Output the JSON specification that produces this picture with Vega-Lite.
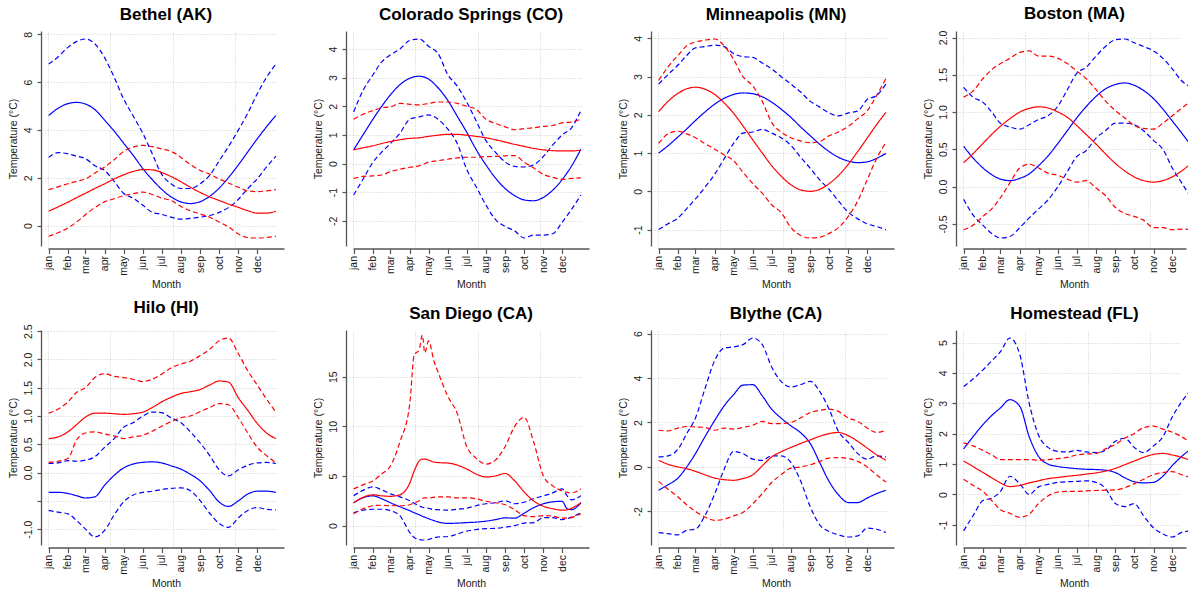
{
  "$schema": "https://vega.github.io/schema/vega-lite/v6.json",
  "autosize": {"type": "pad"},
  "padding": {"left": 8, "top": 5, "right": 0, "bottom": 0},
  "background": "white",
  "config": {
    "font": "Liberation Sans",
    "view": {"stroke": null},
    "title": {"fontSize": 17, "fontWeight": "bold", "color": "#000000", "offset": 7, "anchor": "middle", "font": "Liberation Sans"},
    "axis": {"labelFont": "Liberation Sans", "titleFont": "Liberation Sans", "labelFontSize": 10.5, "titleFontSize": 10.5, "titleFontWeight": "normal", "labelColor": "#1a1a1a", "titleColor": "#1a1a1a", "domainColor": "#555555", "domainWidth": 1.3, "tickColor": "#555555", "tickWidth": 1.2, "gridColor": "#cccccc", "gridDash": [1, 2], "gridWidth": 1, "labelFlush": false, "labelOverlap": false},
    "axisX": {"offset": 2.5, "tickSize": 5, "labelPadding": 2, "titlePadding": 4, "labelAngle": 270, "grid": false},
    "axisY": {"offset": 7, "tickSize": 4, "labelPadding": 4, "titlePadding": 5, "labelAngle": 270, "grid": true, "tickCount": 6},
    "line": {"strokeWidth": 1.2, "interpolate": "monotone", "clip": true}
  },
  "datasets": {
    "w": [
      {"c":"BE","d":1,"b":4.6,"bl":2.85,"bh":6.75,"r":0.6,"rl":-0.45,"rh":1.5},
      {"c":"BE","d":16,"b":4.9,"bl":3.05,"bh":7.05,"r":0.78,"rl":-0.3,"rh":1.62},
      {"c":"BE","d":32,"b":5.1,"bl":3.0,"bh":7.45,"r":0.98,"rl":-0.1,"rh":1.75},
      {"c":"BE","d":46,"b":5.15,"bl":2.9,"bh":7.7,"r":1.17,"rl":0.15,"rh":1.85},
      {"c":"BE","d":60,"b":5.08,"bl":2.8,"bh":7.8,"r":1.35,"rl":0.45,"rh":1.95},
      {"c":"BE","d":75,"b":4.85,"bl":2.5,"bh":7.6,"r":1.55,"rl":0.75,"rh":2.2},
      {"c":"BE","d":91,"b":4.4,"bl":2.3,"bh":7.0,"r":1.75,"rl":1.0,"rh":2.45},
      {"c":"BE","d":106,"b":3.95,"bl":1.85,"bh":6.2,"r":1.95,"rl":1.12,"rh":2.75},
      {"c":"BE","d":121,"b":3.45,"bl":1.35,"bh":5.3,"r":2.12,"rl":1.25,"rh":3.1},
      {"c":"BE","d":136,"b":2.95,"bl":1.15,"bh":4.6,"r":2.26,"rl":1.33,"rh":3.28},
      {"c":"BE","d":152,"b":2.38,"bl":0.85,"bh":3.85,"r":2.34,"rl":1.4,"rh":3.35},
      {"c":"BE","d":167,"b":1.92,"bl":0.55,"bh":3.0,"r":2.33,"rl":1.3,"rh":3.3},
      {"c":"BE","d":182,"b":1.52,"bl":0.47,"bh":2.15,"r":2.22,"rl":1.15,"rh":3.2},
      {"c":"BE","d":197,"b":1.2,"bl":0.35,"bh":1.75,"r":2.05,"rl":1.05,"rh":3.1},
      {"c":"BE","d":213,"b":0.99,"bl":0.27,"bh":1.55,"r":1.83,"rl":0.8,"rh":2.85},
      {"c":"BE","d":228,"b":0.92,"bl":0.3,"bh":1.55,"r":1.6,"rl":0.62,"rh":2.55},
      {"c":"BE","d":244,"b":1.0,"bl":0.35,"bh":1.75,"r":1.38,"rl":0.48,"rh":2.3},
      {"c":"BE","d":259,"b":1.22,"bl":0.42,"bh":2.1,"r":1.2,"rl":0.35,"rh":2.15},
      {"c":"BE","d":274,"b":1.56,"bl":0.55,"bh":2.7,"r":1.05,"rl":0.15,"rh":1.95},
      {"c":"BE","d":289,"b":2.0,"bl":0.75,"bh":3.3,"r":0.9,"rl":-0.05,"rh":1.78},
      {"c":"BE","d":305,"b":2.54,"bl":1.1,"bh":4.0,"r":0.76,"rl":-0.35,"rh":1.6},
      {"c":"BE","d":320,"b":3.08,"bl":1.55,"bh":4.7,"r":0.62,"rl":-0.5,"rh":1.45},
      {"c":"BE","d":335,"b":3.62,"bl":1.95,"bh":5.5,"r":0.52,"rl":-0.52,"rh":1.42},
      {"c":"BE","d":350,"b":4.13,"bl":2.45,"bh":6.2,"r":0.52,"rl":-0.5,"rh":1.45},
      {"c":"BE","d":365,"b":4.6,"bl":2.9,"bh":6.75,"r":0.6,"rl":-0.45,"rh":1.5},

      {"c":"CS","d":1,"b":0.48,"bl":-1.1,"bh":1.8,"r":0.48,"rl":-0.52,"rh":1.55},
      {"c":"CS","d":16,"b":1.0,"bl":-0.55,"bh":2.55,"r":0.55,"rl":-0.45,"rh":1.72},
      {"c":"CS","d":32,"b":1.55,"bl":0.05,"bh":3.1,"r":0.62,"rl":-0.43,"rh":1.85},
      {"c":"CS","d":46,"b":2.0,"bl":0.4,"bh":3.55,"r":0.7,"rl":-0.4,"rh":1.95},
      {"c":"CS","d":60,"b":2.4,"bl":0.7,"bh":3.8,"r":0.77,"rl":-0.28,"rh":1.98},
      {"c":"CS","d":75,"b":2.75,"bl":1.05,"bh":4.0,"r":0.83,"rl":-0.2,"rh":2.1},
      {"c":"CS","d":91,"b":2.98,"bl":1.55,"bh":4.3,"r":0.88,"rl":-0.13,"rh":2.07},
      {"c":"CS","d":106,"b":3.05,"bl":1.63,"bh":4.35,"r":0.9,"rl":-0.08,"rh":2.05},
      {"c":"CS","d":121,"b":2.95,"bl":1.7,"bh":4.1,"r":0.95,"rl":0.05,"rh":2.1},
      {"c":"CS","d":136,"b":2.65,"bl":1.55,"bh":3.85,"r":0.99,"rl":0.1,"rh":2.15},
      {"c":"CS","d":152,"b":2.2,"bl":1.2,"bh":3.1,"r":1.02,"rl":0.15,"rh":2.15},
      {"c":"CS","d":167,"b":1.65,"bl":0.7,"bh":2.7,"r":1.02,"rl":0.2,"rh":2.1},
      {"c":"CS","d":182,"b":1.1,"bl":-0.2,"bh":2.15,"r":0.99,"rl":0.22,"rh":2.0},
      {"c":"CS","d":197,"b":0.5,"bl":-0.8,"bh":1.5,"r":0.95,"rl":0.22,"rh":1.9},
      {"c":"CS","d":213,"b":-0.05,"bl":-1.45,"bh":0.8,"r":0.9,"rl":0.24,"rh":1.55},
      {"c":"CS","d":228,"b":-0.5,"bl":-1.95,"bh":0.4,"r":0.83,"rl":0.25,"rh":1.4},
      {"c":"CS","d":244,"b":-0.88,"bl":-2.2,"bh":0.05,"r":0.75,"rl":0.27,"rh":1.28},
      {"c":"CS","d":259,"b":-1.12,"bl":-2.35,"bh":-0.1,"r":0.67,"rl":0.28,"rh":1.18},
      {"c":"CS","d":274,"b":-1.27,"bl":-2.6,"bh":-0.12,"r":0.6,"rl":0.05,"rh":1.22},
      {"c":"CS","d":289,"b":-1.3,"bl":-2.5,"bh":-0.05,"r":0.53,"rl":-0.15,"rh":1.25},
      {"c":"CS","d":305,"b":-1.18,"bl":-2.5,"bh":0.25,"r":0.48,"rl":-0.38,"rh":1.3},
      {"c":"CS","d":320,"b":-0.93,"bl":-2.45,"bh":0.65,"r":0.45,"rl":-0.48,"rh":1.33},
      {"c":"CS","d":335,"b":-0.56,"bl":-2.05,"bh":1.0,"r":0.44,"rl":-0.55,"rh":1.42},
      {"c":"CS","d":350,"b":-0.09,"bl":-1.6,"bh":1.25,"r":0.44,"rl":-0.52,"rh":1.45},
      {"c":"CS","d":365,"b":0.5,"bl":-1.1,"bh":1.85,"r":0.47,"rl":-0.5,"rh":1.55},

      {"c":"MI","d":1,"b":1.0,"bl":-1.0,"bh":2.8,"r":2.08,"rl":1.25,"rh":2.9},
      {"c":"MI","d":16,"b":1.19,"bl":-0.85,"bh":3.05,"r":2.35,"rl":1.5,"rh":3.25},
      {"c":"MI","d":32,"b":1.42,"bl":-0.7,"bh":3.3,"r":2.56,"rl":1.57,"rh":3.55},
      {"c":"MI","d":46,"b":1.63,"bl":-0.45,"bh":3.55,"r":2.68,"rl":1.5,"rh":3.8},
      {"c":"MI","d":60,"b":1.85,"bl":-0.2,"bh":3.75,"r":2.72,"rl":1.4,"rh":3.9},
      {"c":"MI","d":75,"b":2.07,"bl":0.1,"bh":3.78,"r":2.67,"rl":1.25,"rh":3.95},
      {"c":"MI","d":91,"b":2.28,"bl":0.45,"bh":3.82,"r":2.53,"rl":1.1,"rh":3.98},
      {"c":"MI","d":106,"b":2.43,"bl":0.85,"bh":3.78,"r":2.31,"rl":0.95,"rh":3.8},
      {"c":"MI","d":121,"b":2.53,"bl":1.25,"bh":3.6,"r":2.04,"rl":0.8,"rh":3.45},
      {"c":"MI","d":136,"b":2.57,"bl":1.52,"bh":3.52,"r":1.71,"rl":0.5,"rh":3.0},
      {"c":"MI","d":152,"b":2.55,"bl":1.55,"bh":3.5,"r":1.34,"rl":0.2,"rh":2.75},
      {"c":"MI","d":167,"b":2.47,"bl":1.62,"bh":3.35,"r":1.0,"rl":-0.05,"rh":2.35},
      {"c":"MI","d":182,"b":2.33,"bl":1.52,"bh":3.2,"r":0.67,"rl":-0.35,"rh":1.8},
      {"c":"MI","d":197,"b":2.15,"bl":1.4,"bh":3.0,"r":0.4,"rl":-0.55,"rh":1.55},
      {"c":"MI","d":213,"b":1.93,"bl":1.2,"bh":2.8,"r":0.17,"rl":-0.95,"rh":1.4},
      {"c":"MI","d":228,"b":1.69,"bl":0.9,"bh":2.6,"r":0.04,"rl":-1.15,"rh":1.32},
      {"c":"MI","d":244,"b":1.45,"bl":0.6,"bh":2.35,"r":0.0,"rl":-1.22,"rh":1.27},
      {"c":"MI","d":259,"b":1.23,"bl":0.3,"bh":2.2,"r":0.05,"rl":-1.2,"rh":1.3},
      {"c":"MI","d":274,"b":1.04,"bl":0.05,"bh":2.05,"r":0.2,"rl":-1.1,"rh":1.45},
      {"c":"MI","d":289,"b":0.89,"bl":-0.25,"bh":1.97,"r":0.41,"rl":-0.95,"rh":1.55},
      {"c":"MI","d":305,"b":0.79,"bl":-0.55,"bh":2.05,"r":0.71,"rl":-0.65,"rh":1.7},
      {"c":"MI","d":320,"b":0.75,"bl":-0.72,"bh":2.1,"r":1.04,"rl":-0.25,"rh":1.9},
      {"c":"MI","d":335,"b":0.77,"bl":-0.85,"bh":2.4,"r":1.39,"rl":0.3,"rh":2.1},
      {"c":"MI","d":350,"b":0.86,"bl":-0.92,"bh":2.5,"r":1.74,"rl":0.85,"rh":2.5},
      {"c":"MI","d":365,"b":0.99,"bl":-1.0,"bh":2.8,"r":2.06,"rl":1.28,"rh":2.95},

      {"c":"BO","d":1,"b":0.54,"bl":-0.17,"bh":1.33,"r":0.32,"rl":-0.58,"rh":1.2},
      {"c":"BO","d":16,"b":0.385,"bl":-0.38,"bh":1.2,"r":0.44,"rl":-0.52,"rh":1.28},
      {"c":"BO","d":32,"b":0.25,"bl":-0.52,"bh":1.13,"r":0.58,"rl":-0.4,"rh":1.45},
      {"c":"BO","d":46,"b":0.16,"bl":-0.63,"bh":1.0,"r":0.7,"rl":-0.3,"rh":1.57},
      {"c":"BO","d":60,"b":0.1,"bl":-0.69,"bh":0.85,"r":0.81,"rl":-0.15,"rh":1.65},
      {"c":"BO","d":75,"b":0.08,"bl":-0.67,"bh":0.8,"r":0.91,"rl":0.05,"rh":1.72},
      {"c":"BO","d":91,"b":0.11,"bl":-0.55,"bh":0.77,"r":1.0,"rl":0.25,"rh":1.8},
      {"c":"BO","d":106,"b":0.17,"bl":-0.42,"bh":0.83,"r":1.05,"rl":0.3,"rh":1.82},
      {"c":"BO","d":121,"b":0.28,"bl":-0.3,"bh":0.9,"r":1.07,"rl":0.25,"rh":1.75},
      {"c":"BO","d":136,"b":0.41,"bl":-0.18,"bh":0.95,"r":1.055,"rl":0.18,"rh":1.75},
      {"c":"BO","d":152,"b":0.58,"bl":0.0,"bh":1.08,"r":1.0,"rl":0.15,"rh":1.72},
      {"c":"BO","d":167,"b":0.75,"bl":0.2,"bh":1.3,"r":0.93,"rl":0.1,"rh":1.65},
      {"c":"BO","d":182,"b":0.92,"bl":0.4,"bh":1.52,"r":0.82,"rl":0.06,"rh":1.55},
      {"c":"BO","d":197,"b":1.07,"bl":0.48,"bh":1.6,"r":0.7,"rl":0.08,"rh":1.45},
      {"c":"BO","d":213,"b":1.21,"bl":0.65,"bh":1.75,"r":0.57,"rl":-0.02,"rh":1.3},
      {"c":"BO","d":228,"b":1.31,"bl":0.75,"bh":1.88,"r":0.44,"rl":-0.12,"rh":1.15},
      {"c":"BO","d":244,"b":1.37,"bl":0.85,"bh":1.97,"r":0.31,"rl":-0.28,"rh":1.02},
      {"c":"BO","d":259,"b":1.39,"bl":0.85,"bh":1.98,"r":0.21,"rl":-0.36,"rh":0.92},
      {"c":"BO","d":274,"b":1.36,"bl":0.83,"bh":1.93,"r":0.13,"rl":-0.4,"rh":0.82},
      {"c":"BO","d":289,"b":1.29,"bl":0.75,"bh":1.88,"r":0.08,"rl":-0.45,"rh":0.78},
      {"c":"BO","d":305,"b":1.18,"bl":0.62,"bh":1.82,"r":0.06,"rl":-0.55,"rh":0.77},
      {"c":"BO","d":320,"b":1.04,"bl":0.5,"bh":1.72,"r":0.08,"rl":-0.55,"rh":0.85},
      {"c":"BO","d":335,"b":0.88,"bl":0.25,"bh":1.58,"r":0.13,"rl":-0.58,"rh":0.95},
      {"c":"BO","d":350,"b":0.72,"bl":0.05,"bh":1.42,"r":0.21,"rl":-0.57,"rh":1.05},
      {"c":"BO","d":365,"b":0.55,"bl":-0.15,"bh":1.33,"r":0.31,"rl":-0.58,"rh":1.15},

      {"c":"HI","d":1,"b":-0.35,"bl":-0.67,"bh":0.16,"r":0.6,"rl":0.18,"rh":1.05},
      {"c":"HI","d":16,"b":-0.35,"bl":-0.7,"bh":0.17,"r":0.63,"rl":0.2,"rh":1.12},
      {"c":"HI","d":32,"b":-0.37,"bl":-0.73,"bh":0.21,"r":0.72,"rl":0.25,"rh":1.25},
      {"c":"HI","d":46,"b":-0.41,"bl":-0.85,"bh":0.2,"r":0.85,"rl":0.58,"rh":1.42},
      {"c":"HI","d":60,"b":-0.45,"bl":-1.0,"bh":0.22,"r":0.98,"rl":0.7,"rh":1.5},
      {"c":"HI","d":75,"b":-0.43,"bl":-1.14,"bh":0.28,"r":1.05,"rl":0.72,"rh":1.68},
      {"c":"HI","d":91,"b":-0.22,"bl":-1.02,"bh":0.45,"r":1.05,"rl":0.68,"rh":1.75},
      {"c":"HI","d":106,"b":-0.05,"bl":-0.75,"bh":0.6,"r":1.04,"rl":0.65,"rh":1.7},
      {"c":"HI","d":121,"b":0.08,"bl":-0.52,"bh":0.8,"r":1.03,"rl":0.6,"rh":1.68},
      {"c":"HI","d":136,"b":0.15,"bl":-0.4,"bh":0.88,"r":1.04,"rl":0.63,"rh":1.65},
      {"c":"HI","d":152,"b":0.18,"bl":-0.35,"bh":1.0,"r":1.07,"rl":0.66,"rh":1.61},
      {"c":"HI","d":167,"b":0.19,"bl":-0.33,"bh":1.07,"r":1.15,"rl":0.73,"rh":1.65},
      {"c":"HI","d":182,"b":0.17,"bl":-0.3,"bh":1.06,"r":1.25,"rl":0.82,"rh":1.74},
      {"c":"HI","d":197,"b":0.12,"bl":-0.28,"bh":0.97,"r":1.33,"rl":0.9,"rh":1.85},
      {"c":"HI","d":213,"b":0.06,"bl":-0.27,"bh":0.88,"r":1.4,"rl":0.97,"rh":1.92},
      {"c":"HI","d":228,"b":-0.03,"bl":-0.32,"bh":0.72,"r":1.43,"rl":1.0,"rh":1.97},
      {"c":"HI","d":244,"b":-0.15,"bl":-0.5,"bh":0.52,"r":1.47,"rl":1.08,"rh":2.07},
      {"c":"HI","d":259,"b":-0.32,"bl":-0.72,"bh":0.3,"r":1.55,"rl":1.15,"rh":2.18},
      {"c":"HI","d":274,"b":-0.52,"bl":-0.9,"bh":0.05,"r":1.62,"rl":1.22,"rh":2.33},
      {"c":"HI","d":289,"b":-0.6,"bl":-0.97,"bh":-0.06,"r":1.6,"rl":1.2,"rh":2.38},
      {"c":"HI","d":305,"b":-0.5,"bl":-0.8,"bh":0.05,"r":1.32,"rl":0.97,"rh":2.1},
      {"c":"HI","d":320,"b":-0.38,"bl":-0.67,"bh":0.13,"r":1.1,"rl":0.7,"rh":1.8},
      {"c":"HI","d":335,"b":-0.33,"bl":-0.62,"bh":0.17,"r":0.87,"rl":0.45,"rh":1.55},
      {"c":"HI","d":350,"b":-0.33,"bl":-0.65,"bh":0.18,"r":0.7,"rl":0.3,"rh":1.3},
      {"c":"HI","d":365,"b":-0.35,"bl":-0.66,"bh":0.16,"r":0.6,"rl":0.17,"rh":1.07},

      {"c":"SD","d":1,"b":2.3,"bl":1.3,"bh":3.0,"r":2.3,"rl":1.2,"rh":3.7},
      {"c":"SD","d":16,"b":2.8,"bl":1.55,"bh":3.55,"r":2.85,"rl":1.7,"rh":4.1},
      {"c":"SD","d":32,"b":3.0,"bl":1.65,"bh":3.9,"r":3.1,"rl":2.0,"rh":4.5},
      {"c":"SD","d":46,"b":2.7,"bl":1.65,"bh":3.6,"r":3.0,"rl":2.05,"rh":5.2},
      {"c":"SD","d":60,"b":2.3,"bl":1.5,"bh":3.2,"r":2.95,"rl":2.0,"rh":6.0},
      {"c":"SD","d":75,"b":1.9,"bl":1.0,"bh":2.9,"r":3.1,"rl":2.0,"rh":8.4},
      {"c":"SD","d":91,"b":1.5,"bl":-0.7,"bh":2.5,"r":4.3,"rl":2.1,"rh":12.3},
      {"c":"SD","d":98,"b":1.3,"bl":-1.2,"bh":2.25,"r":5.5,"rl":2.3,"rh":17.2},
      {"c":"SD","d":106,"b":1.1,"bl":-1.4,"bh":2.0,"r":6.5,"rl":2.5,"rh":17.7},
      {"c":"SD","d":111,"b":0.95,"bl":-1.45,"bh":1.85,"r":6.7,"rl":2.75,"rh":19.2},
      {"c":"SD","d":115,"b":0.85,"bl":-1.45,"bh":1.8,"r":6.7,"rl":2.8,"rh":17.4},
      {"c":"SD","d":121,"b":0.7,"bl":-1.4,"bh":1.75,"r":6.6,"rl":2.8,"rh":18.6},
      {"c":"SD","d":130,"b":0.5,"bl":-1.2,"bh":1.6,"r":6.4,"rl":2.85,"rh":16.5},
      {"c":"SD","d":136,"b":0.38,"bl":-1.15,"bh":1.6,"r":6.35,"rl":2.9,"rh":15.5},
      {"c":"SD","d":152,"b":0.22,"bl":-1.1,"bh":1.55,"r":6.3,"rl":2.9,"rh":13.0},
      {"c":"SD","d":167,"b":0.25,"bl":-0.85,"bh":1.65,"r":6.1,"rl":2.8,"rh":11.3},
      {"c":"SD","d":182,"b":0.3,"bl":-0.55,"bh":1.75,"r":5.7,"rl":2.8,"rh":8.0},
      {"c":"SD","d":197,"b":0.35,"bl":-0.4,"bh":2.0,"r":5.2,"rl":2.7,"rh":6.8},
      {"c":"SD","d":213,"b":0.45,"bl":-0.3,"bh":2.2,"r":4.9,"rl":2.45,"rh":6.2},
      {"c":"SD","d":228,"b":0.6,"bl":-0.28,"bh":2.3,"r":5.0,"rl":2.3,"rh":6.6},
      {"c":"SD","d":244,"b":0.78,"bl":-0.15,"bh":2.5,"r":5.25,"rl":2.1,"rh":8.0},
      {"c":"SD","d":259,"b":0.75,"bl":0.0,"bh":2.2,"r":4.5,"rl":1.6,"rh":10.0},
      {"c":"SD","d":274,"b":1.25,"bl":0.25,"bh":2.35,"r":3.4,"rl":1.0,"rh":10.9},
      {"c":"SD","d":289,"b":1.8,"bl":0.3,"bh":2.7,"r":2.5,"rl":0.9,"rh":8.5},
      {"c":"SD","d":305,"b":2.2,"bl":0.8,"bh":3.0,"r":1.95,"rl":1.0,"rh":5.0},
      {"c":"SD","d":320,"b":2.4,"bl":0.8,"bh":3.3,"r":1.7,"rl":0.95,"rh":4.0},
      {"c":"SD","d":335,"b":2.45,"bl":0.6,"bh":3.7,"r":1.55,"rl":0.75,"rh":3.5},
      {"c":"SD","d":343,"b":1.7,"bl":0.7,"bh":3.0,"r":1.6,"rl":0.75,"rh":3.35},
      {"c":"SD","d":350,"b":1.6,"bl":0.85,"bh":2.6,"r":1.75,"rl":0.8,"rh":3.3},
      {"c":"SD","d":365,"b":2.3,"bl":1.3,"bh":3.0,"r":2.3,"rl":1.2,"rh":3.7},

      {"c":"BL","d":1,"b":-1.05,"bl":-2.95,"bh":0.45,"r":0.3,"rl":-0.65,"rh":1.65},
      {"c":"BL","d":16,"b":-0.8,"bl":-3.0,"bh":0.5,"r":0.12,"rl":-1.0,"rh":1.62},
      {"c":"BL","d":32,"b":-0.5,"bl":-3.05,"bh":0.8,"r":0.0,"rl":-1.35,"rh":1.75},
      {"c":"BL","d":46,"b":0.0,"bl":-2.85,"bh":1.5,"r":-0.08,"rl":-1.7,"rh":1.82},
      {"c":"BL","d":60,"b":0.6,"bl":-2.8,"bh":2.2,"r":-0.2,"rl":-2.0,"rh":1.8},
      {"c":"BL","d":75,"b":1.35,"bl":-2.2,"bh":3.5,"r":-0.35,"rl":-2.25,"rh":1.78},
      {"c":"BL","d":91,"b":2.1,"bl":-1.2,"bh":4.8,"r":-0.5,"rl":-2.4,"rh":1.65},
      {"c":"BL","d":106,"b":2.75,"bl":-0.1,"bh":5.35,"r":-0.57,"rl":-2.35,"rh":1.75},
      {"c":"BL","d":121,"b":3.25,"bl":0.7,"bh":5.4,"r":-0.6,"rl":-2.2,"rh":1.7},
      {"c":"BL","d":136,"b":3.68,"bl":0.6,"bh":5.5,"r":-0.52,"rl":-2.05,"rh":1.78},
      {"c":"BL","d":152,"b":3.7,"bl":0.35,"bh":5.8,"r":-0.35,"rl":-1.65,"rh":1.88},
      {"c":"BL","d":167,"b":3.2,"bl":0.3,"bh":5.5,"r":0.05,"rl":-1.2,"rh":2.05},
      {"c":"BL","d":182,"b":2.6,"bl":0.5,"bh":4.5,"r":0.45,"rl":-0.7,"rh":1.95},
      {"c":"BL","d":197,"b":2.2,"bl":0.5,"bh":3.85,"r":0.68,"rl":-0.35,"rh":1.95},
      {"c":"BL","d":213,"b":1.85,"bl":0.2,"bh":3.6,"r":0.88,"rl":-0.05,"rh":2.0},
      {"c":"BL","d":228,"b":1.55,"bl":-0.6,"bh":3.7,"r":1.05,"rl":0.0,"rh":2.2},
      {"c":"BL","d":244,"b":1.05,"bl":-1.8,"bh":3.85,"r":1.22,"rl":0.1,"rh":2.45},
      {"c":"BL","d":259,"b":0.2,"bl":-2.6,"bh":3.4,"r":1.38,"rl":0.25,"rh":2.55},
      {"c":"BL","d":274,"b":-0.65,"bl":-2.9,"bh":2.6,"r":1.5,"rl":0.4,"rh":2.6},
      {"c":"BL","d":289,"b":-1.25,"bl":-3.05,"bh":1.6,"r":1.55,"rl":0.42,"rh":2.5},
      {"c":"BL","d":305,"b":-1.6,"bl":-3.15,"bh":1.1,"r":1.4,"rl":0.38,"rh":2.2},
      {"c":"BL","d":320,"b":-1.6,"bl":-3.1,"bh":0.6,"r":1.15,"rl":0.25,"rh":2.05},
      {"c":"BL","d":335,"b":-1.4,"bl":-2.75,"bh":0.35,"r":0.85,"rl":0.0,"rh":1.75},
      {"c":"BL","d":350,"b":-1.2,"bl":-2.8,"bh":0.5,"r":0.55,"rl":-0.35,"rh":1.55},
      {"c":"BL","d":365,"b":-1.05,"bl":-2.95,"bh":0.45,"r":0.3,"rl":-0.68,"rh":1.65},

      {"c":"HO","d":1,"b":1.5,"bl":-1.2,"bh":3.55,"r":1.1,"rl":0.5,"rh":1.7},
      {"c":"HO","d":16,"b":1.9,"bl":-0.7,"bh":3.8,"r":0.92,"rl":0.3,"rh":1.6},
      {"c":"HO","d":32,"b":2.3,"bl":-0.2,"bh":4.1,"r":0.72,"rl":0.1,"rh":1.45},
      {"c":"HO","d":46,"b":2.6,"bl":-0.12,"bh":4.4,"r":0.55,"rl":-0.2,"rh":1.3},
      {"c":"HO","d":60,"b":2.85,"bl":0.1,"bh":4.7,"r":0.38,"rl":-0.5,"rh":1.15},
      {"c":"HO","d":75,"b":3.12,"bl":0.6,"bh":5.15,"r":0.26,"rl":-0.62,"rh":1.15},
      {"c":"HO","d":91,"b":2.9,"bl":0.35,"bh":4.6,"r":0.3,"rl":-0.75,"rh":1.15},
      {"c":"HO","d":106,"b":1.9,"bl":0.0,"bh":3.0,"r":0.38,"rl":-0.65,"rh":1.15},
      {"c":"HO","d":121,"b":1.25,"bl":0.25,"bh":1.95,"r":0.45,"rl":-0.3,"rh":1.13},
      {"c":"HO","d":136,"b":1.0,"bl":0.33,"bh":1.55,"r":0.52,"rl":-0.05,"rh":1.15},
      {"c":"HO","d":152,"b":0.92,"bl":0.4,"bh":1.42,"r":0.56,"rl":0.08,"rh":1.18},
      {"c":"HO","d":167,"b":0.88,"bl":0.42,"bh":1.4,"r":0.6,"rl":0.1,"rh":1.22},
      {"c":"HO","d":182,"b":0.85,"bl":0.43,"bh":1.45,"r":0.63,"rl":0.1,"rh":1.3},
      {"c":"HO","d":197,"b":0.83,"bl":0.45,"bh":1.4,"r":0.67,"rl":0.12,"rh":1.33},
      {"c":"HO","d":213,"b":0.82,"bl":0.4,"bh":1.38,"r":0.71,"rl":0.13,"rh":1.35},
      {"c":"HO","d":228,"b":0.8,"bl":0.2,"bh":1.45,"r":0.77,"rl":0.14,"rh":1.5},
      {"c":"HO","d":244,"b":0.72,"bl":-0.3,"bh":1.75,"r":0.86,"rl":0.15,"rh":1.65},
      {"c":"HO","d":259,"b":0.55,"bl":-0.4,"bh":1.85,"r":0.98,"rl":0.22,"rh":1.85},
      {"c":"HO","d":274,"b":0.42,"bl":-0.3,"bh":1.55,"r":1.1,"rl":0.35,"rh":2.0},
      {"c":"HO","d":289,"b":0.38,"bl":-0.7,"bh":1.38,"r":1.22,"rl":0.5,"rh":2.2},
      {"c":"HO","d":305,"b":0.4,"bl":-1.1,"bh":1.6,"r":1.32,"rl":0.65,"rh":2.25},
      {"c":"HO","d":320,"b":0.6,"bl":-1.3,"bh":1.9,"r":1.35,"rl":0.72,"rh":2.15},
      {"c":"HO","d":335,"b":0.95,"bl":-1.4,"bh":2.55,"r":1.3,"rl":0.75,"rh":2.05},
      {"c":"HO","d":350,"b":1.25,"bl":-1.25,"bh":3.05,"r":1.22,"rl":0.65,"rh":1.9},
      {"c":"HO","d":365,"b":1.5,"bl":-1.2,"bh":3.45,"r":1.12,"rl":0.55,"rh":1.7}
    ]
  },
  "data": {"name": "w"},
  "transform": [{"fold": ["b", "bl", "bh", "r", "rl", "rh"], "as": ["s", "v"]}],
  "columns": 4,
  "bounds": "flush",
  "spacing": {"row": 84, "column": 69},
  "concat": [
    {"title": "Bethel (AK)", "width": 236, "height": 215, "transform": [{"filter": "datum.c === 'BE'"}], "resolve": {"axis": {"x": "independent"}},
     "layer": [
      {"mark": {"type": "rule", "opacity": 0, "clip": true}, "encoding": {"x": {"field": "d", "type": "quantitative", "scale": {"domain": [0, 378], "nice": false, "zero": false}, "axis": {"orient": "bottom", "values": [0, 100, 200, 300], "grid": true, "labels": false, "ticks": false, "domain": false, "title": null, "offset": 0}}}},
      {"mark": {"type": "line"}, "encoding": {
        "x": {"field": "d", "type": "quantitative", "scale": {"domain": [0, 378], "nice": false, "zero": false}, "axis": {"orient": "bottom", "values": [1, 32, 60, 91, 121, 152, 182, 213, 244, 274, 305, 335], "labelExpr": "['jan','feb','mar','apr','may','jun','jul','aug','sep','oct','nov','dec'][indexof([1,32,60,91,121,152,182,213,244,274,305,335], datum.value)]", "title": "Month"}},
        "y": {"field": "v", "type": "quantitative", "scale": {"zero": false, "nice": false, "padding": 8}, "axis": {"title": "Temperature (°C)", "labelExpr": "replace(datum.label, '−', '-')"}},
        "color": {"field": "s", "type": "nominal", "scale": {"domain": ["b", "bl", "bh", "r", "rl", "rh"], "range": ["#0000ff", "#0000ff", "#0000ff", "#ff0000", "#ff0000", "#ff0000"]}, "legend": null},
        "strokeDash": {"field": "s", "type": "nominal", "scale": {"domain": ["b", "bl", "bh", "r", "rl", "rh"], "range": [[1, 0], [5, 3], [5, 3], [1, 0], [5, 3], [5, 3]]}, "legend": null}}}
     ]},
    {"title": "Colorado Springs (CO)", "width": 236, "height": 215, "transform": [{"filter": "datum.c === 'CS'"}], "resolve": {"axis": {"x": "independent"}},
     "layer": [
      {"mark": {"type": "rule", "opacity": 0, "clip": true}, "encoding": {"x": {"field": "d", "type": "quantitative", "scale": {"domain": [0, 378], "nice": false, "zero": false}, "axis": {"orient": "bottom", "values": [0, 100, 200, 300], "grid": true, "labels": false, "ticks": false, "domain": false, "title": null, "offset": 0}}}},
      {"mark": {"type": "line"}, "encoding": {
        "x": {"field": "d", "type": "quantitative", "scale": {"domain": [0, 378], "nice": false, "zero": false}, "axis": {"orient": "bottom", "values": [1, 32, 60, 91, 121, 152, 182, 213, 244, 274, 305, 335], "labelExpr": "['jan','feb','mar','apr','may','jun','jul','aug','sep','oct','nov','dec'][indexof([1,32,60,91,121,152,182,213,244,274,305,335], datum.value)]", "title": "Month"}},
        "y": {"field": "v", "type": "quantitative", "scale": {"zero": false, "nice": false, "padding": 8}, "axis": {"title": "Temperature (°C)", "labelExpr": "replace(datum.label, '−', '-')"}},
        "color": {"field": "s", "type": "nominal", "scale": {"domain": ["b", "bl", "bh", "r", "rl", "rh"], "range": ["#0000ff", "#0000ff", "#0000ff", "#ff0000", "#ff0000", "#ff0000"]}, "legend": null},
        "strokeDash": {"field": "s", "type": "nominal", "scale": {"domain": ["b", "bl", "bh", "r", "rl", "rh"], "range": [[1, 0], [5, 3], [5, 3], [1, 0], [5, 3], [5, 3]]}, "legend": null}}}
     ]},
    {"title": "Minneapolis (MN)", "width": 236, "height": 215, "transform": [{"filter": "datum.c === 'MI'"}], "resolve": {"axis": {"x": "independent"}},
     "layer": [
      {"mark": {"type": "rule", "opacity": 0, "clip": true}, "encoding": {"x": {"field": "d", "type": "quantitative", "scale": {"domain": [0, 378], "nice": false, "zero": false}, "axis": {"orient": "bottom", "values": [0, 100, 200, 300], "grid": true, "labels": false, "ticks": false, "domain": false, "title": null, "offset": 0}}}},
      {"mark": {"type": "line"}, "encoding": {
        "x": {"field": "d", "type": "quantitative", "scale": {"domain": [0, 378], "nice": false, "zero": false}, "axis": {"orient": "bottom", "values": [1, 32, 60, 91, 121, 152, 182, 213, 244, 274, 305, 335], "labelExpr": "['jan','feb','mar','apr','may','jun','jul','aug','sep','oct','nov','dec'][indexof([1,32,60,91,121,152,182,213,244,274,305,335], datum.value)]", "title": "Month"}},
        "y": {"field": "v", "type": "quantitative", "scale": {"zero": false, "nice": false, "padding": 8}, "axis": {"title": "Temperature (°C)", "labelExpr": "replace(datum.label, '−', '-')"}},
        "color": {"field": "s", "type": "nominal", "scale": {"domain": ["b", "bl", "bh", "r", "rl", "rh"], "range": ["#0000ff", "#0000ff", "#0000ff", "#ff0000", "#ff0000", "#ff0000"]}, "legend": null},
        "strokeDash": {"field": "s", "type": "nominal", "scale": {"domain": ["b", "bl", "bh", "r", "rl", "rh"], "range": [[1, 0], [5, 3], [5, 3], [1, 0], [5, 3], [5, 3]]}, "legend": null}}}
     ]},
    {"title": "Boston (MA)", "width": 223, "height": 215, "transform": [{"filter": "datum.c === 'BO'"}], "resolve": {"axis": {"x": "independent"}},
     "layer": [
      {"mark": {"type": "rule", "opacity": 0, "clip": true}, "encoding": {"x": {"field": "d", "type": "quantitative", "scale": {"domain": [0, 357], "nice": false, "zero": false}, "axis": {"orient": "bottom", "values": [0, 100, 200, 300], "grid": true, "labels": false, "ticks": false, "domain": false, "title": null, "offset": 0}}}},
      {"mark": {"type": "line"}, "encoding": {
        "x": {"field": "d", "type": "quantitative", "scale": {"domain": [0, 357], "nice": false, "zero": false}, "axis": {"orient": "bottom", "values": [1, 32, 60, 91, 121, 152, 182, 213, 244, 274, 305, 335], "labelExpr": "['jan','feb','mar','apr','may','jun','jul','aug','sep','oct','nov','dec'][indexof([1,32,60,91,121,152,182,213,244,274,305,335], datum.value)]", "title": "Month", "titleX": 111}},
        "y": {"field": "v", "type": "quantitative", "scale": {"zero": false, "nice": false, "padding": 8}, "axis": {"title": "Temperature (°C)", "labelExpr": "replace(datum.label, '−', '-')"}},
        "color": {"field": "s", "type": "nominal", "scale": {"domain": ["b", "bl", "bh", "r", "rl", "rh"], "range": ["#0000ff", "#0000ff", "#0000ff", "#ff0000", "#ff0000", "#ff0000"]}, "legend": null},
        "strokeDash": {"field": "s", "type": "nominal", "scale": {"domain": ["b", "bl", "bh", "r", "rl", "rh"], "range": [[1, 0], [5, 3], [5, 3], [1, 0], [5, 3], [5, 3]]}, "legend": null}}}
     ]},
    {"title": "Hilo (HI)", "width": 236, "height": 215, "transform": [{"filter": "datum.c === 'HI'"}], "resolve": {"axis": {"x": "independent"}},
     "layer": [
      {"mark": {"type": "rule", "opacity": 0, "clip": true}, "encoding": {"x": {"field": "d", "type": "quantitative", "scale": {"domain": [0, 378], "nice": false, "zero": false}, "axis": {"orient": "bottom", "values": [0, 100, 200, 300], "grid": true, "labels": false, "ticks": false, "domain": false, "title": null, "offset": 0}}}},
      {"mark": {"type": "line"}, "encoding": {
        "x": {"field": "d", "type": "quantitative", "scale": {"domain": [0, 378], "nice": false, "zero": false}, "axis": {"orient": "bottom", "values": [1, 32, 60, 91, 121, 152, 182, 213, 244, 274, 305, 335], "labelExpr": "['jan','feb','mar','apr','may','jun','jul','aug','sep','oct','nov','dec'][indexof([1,32,60,91,121,152,182,213,244,274,305,335], datum.value)]", "title": "Month"}},
        "y": {"field": "v", "type": "quantitative", "scale": {"zero": false, "nice": false, "padding": 8}, "axis": {"title": "Temperature (°C)", "labelExpr": "datum.value === -0.5 ? '' : replace(datum.label, '−', '-')"}},
        "color": {"field": "s", "type": "nominal", "scale": {"domain": ["b", "bl", "bh", "r", "rl", "rh"], "range": ["#0000ff", "#0000ff", "#0000ff", "#ff0000", "#ff0000", "#ff0000"]}, "legend": null},
        "strokeDash": {"field": "s", "type": "nominal", "scale": {"domain": ["b", "bl", "bh", "r", "rl", "rh"], "range": [[1, 0], [5, 3], [5, 3], [1, 0], [5, 3], [5, 3]]}, "legend": null}}}
     ]},
    {"title": "San Diego (CA)", "width": 236, "height": 215, "transform": [{"filter": "datum.c === 'SD'"}], "resolve": {"axis": {"x": "independent"}},
     "layer": [
      {"mark": {"type": "rule", "opacity": 0, "clip": true}, "encoding": {"x": {"field": "d", "type": "quantitative", "scale": {"domain": [0, 378], "nice": false, "zero": false}, "axis": {"orient": "bottom", "values": [0, 100, 200, 300], "grid": true, "labels": false, "ticks": false, "domain": false, "title": null, "offset": 0}}}},
      {"mark": {"type": "line"}, "encoding": {
        "x": {"field": "d", "type": "quantitative", "scale": {"domain": [0, 378], "nice": false, "zero": false}, "axis": {"orient": "bottom", "values": [1, 32, 60, 91, 121, 152, 182, 213, 244, 274, 305, 335], "labelExpr": "['jan','feb','mar','apr','may','jun','jul','aug','sep','oct','nov','dec'][indexof([1,32,60,91,121,152,182,213,244,274,305,335], datum.value)]", "title": "Month"}},
        "y": {"field": "v", "type": "quantitative", "scale": {"zero": false, "nice": false, "padding": 5}, "axis": {"title": "Temperature (°C)", "labelExpr": "replace(datum.label, '−', '-')"}},
        "color": {"field": "s", "type": "nominal", "scale": {"domain": ["b", "bl", "bh", "r", "rl", "rh"], "range": ["#0000ff", "#0000ff", "#0000ff", "#ff0000", "#ff0000", "#ff0000"]}, "legend": null},
        "strokeDash": {"field": "s", "type": "nominal", "scale": {"domain": ["b", "bl", "bh", "r", "rl", "rh"], "range": [[1, 0], [5, 3], [5, 3], [1, 0], [5, 3], [5, 3]]}, "legend": null}}}
     ]},
    {"title": "Blythe (CA)", "width": 236, "height": 215, "transform": [{"filter": "datum.c === 'BL'"}], "resolve": {"axis": {"x": "independent"}},
     "layer": [
      {"mark": {"type": "rule", "opacity": 0, "clip": true}, "encoding": {"x": {"field": "d", "type": "quantitative", "scale": {"domain": [0, 378], "nice": false, "zero": false}, "axis": {"orient": "bottom", "values": [0, 100, 200, 300], "grid": true, "labels": false, "ticks": false, "domain": false, "title": null, "offset": 0}}}},
      {"mark": {"type": "line"}, "encoding": {
        "x": {"field": "d", "type": "quantitative", "scale": {"domain": [0, 378], "nice": false, "zero": false}, "axis": {"orient": "bottom", "values": [1, 32, 60, 91, 121, 152, 182, 213, 244, 274, 305, 335], "labelExpr": "['jan','feb','mar','apr','may','jun','jul','aug','sep','oct','nov','dec'][indexof([1,32,60,91,121,152,182,213,244,274,305,335], datum.value)]", "title": "Month"}},
        "y": {"field": "v", "type": "quantitative", "scale": {"zero": false, "nice": false, "padding": 8}, "axis": {"title": "Temperature (°C)", "labelExpr": "replace(datum.label, '−', '-')"}},
        "color": {"field": "s", "type": "nominal", "scale": {"domain": ["b", "bl", "bh", "r", "rl", "rh"], "range": ["#0000ff", "#0000ff", "#0000ff", "#ff0000", "#ff0000", "#ff0000"]}, "legend": null},
        "strokeDash": {"field": "s", "type": "nominal", "scale": {"domain": ["b", "bl", "bh", "r", "rl", "rh"], "range": [[1, 0], [5, 3], [5, 3], [1, 0], [5, 3], [5, 3]]}, "legend": null}}}
     ]},
    {"title": "Homestead (FL)", "width": 223, "height": 215, "transform": [{"filter": "datum.c === 'HO'"}], "resolve": {"axis": {"x": "independent"}},
     "layer": [
      {"mark": {"type": "rule", "opacity": 0, "clip": true}, "encoding": {"x": {"field": "d", "type": "quantitative", "scale": {"domain": [0, 357], "nice": false, "zero": false}, "axis": {"orient": "bottom", "values": [0, 100, 200, 300], "grid": true, "labels": false, "ticks": false, "domain": false, "title": null, "offset": 0}}}},
      {"mark": {"type": "line"}, "encoding": {
        "x": {"field": "d", "type": "quantitative", "scale": {"domain": [0, 357], "nice": false, "zero": false}, "axis": {"orient": "bottom", "values": [1, 32, 60, 91, 121, 152, 182, 213, 244, 274, 305, 335], "labelExpr": "['jan','feb','mar','apr','may','jun','jul','aug','sep','oct','nov','dec'][indexof([1,32,60,91,121,152,182,213,244,274,305,335], datum.value)]", "title": "Month", "titleX": 111}},
        "y": {"field": "v", "type": "quantitative", "scale": {"zero": false, "nice": false, "padding": 8}, "axis": {"title": "Temperature (°C)", "labelExpr": "replace(datum.label, '−', '-')"}},
        "color": {"field": "s", "type": "nominal", "scale": {"domain": ["b", "bl", "bh", "r", "rl", "rh"], "range": ["#0000ff", "#0000ff", "#0000ff", "#ff0000", "#ff0000", "#ff0000"]}, "legend": null},
        "strokeDash": {"field": "s", "type": "nominal", "scale": {"domain": ["b", "bl", "bh", "r", "rl", "rh"], "range": [[1, 0], [5, 3], [5, 3], [1, 0], [5, 3], [5, 3]]}, "legend": null}}}
     ]}
  ]
}
